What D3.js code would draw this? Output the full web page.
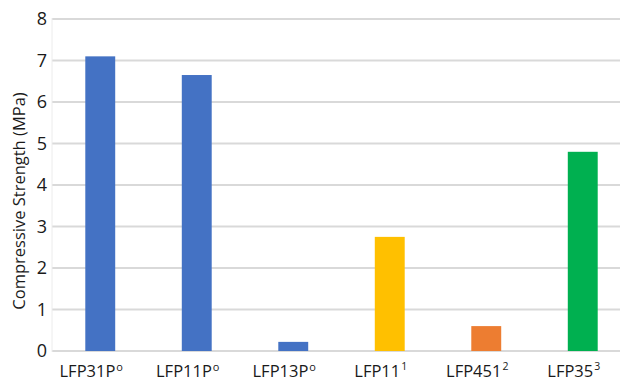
<!DOCTYPE html>
<html>
<head>
<meta charset="utf-8">
<script src="https://cdn.jsdelivr.net/npm/d3@7"></script>
<style>
  html, body { margin: 0; padding: 0; background: #fff; }
  svg { display: block; font-family: "Open Sans", "Noto Sans", sans-serif; }
</style>
</head>
<body>
<svg id="chart" width="620" height="381"></svg>
<script>
// Sample names, split into base text and superscript mark
const sampleNames = ["LFP31P", "LFP11P", "LFP13P", "LFP11", "LFP451", "LFP35"];
const sampleMarks = ["o", "o", "o", "1", "2", "3"];
// Compressive strength (MPa)
const strengthValues = [7.1, 6.65, 0.22, 2.75, 0.6, 4.8];
const barColors = ["#4472C4", "#4472C4", "#4472C4", "#FFC000", "#ED7D31", "#00B050"];
const yTicks = [0, 1, 2, 3, 4, 5, 6, 7, 8];
const yTitle = "Compressive Strength (MPa)";

const svg = d3.select("#chart");
const margin = { left: 52, right: -11, top: 19, bottom: 30 };
const W = 620, H = 381;

const x = d3.scaleBand()
  .domain(sampleNames)
  .range([margin.left, W - margin.right])
  .paddingInner(0.69)
  .paddingOuter(0.345);

const y = d3.scaleLinear()
  .domain([0, 8])
  .range([H - margin.bottom, margin.top]);

// Horizontal gridlines
svg.append("g")
  .selectAll("line")
  .data(yTicks)
  .join("line")
  .attr("x1", margin.left)
  .attr("x2", W)
  .attr("y1", d => y(d))
  .attr("y2", d => y(d))
  .attr("stroke", "#d9d9d9")
  .attr("stroke-width", 2);

// Left border of plot area
svg.append("line")
  .attr("x1", margin.left).attr("x2", margin.left)
  .attr("y1", y(8) - 1).attr("y2", y(0) + 1)
  .attr("stroke", "#ececec").attr("stroke-width", 1);

// Y tick labels
const yAxis = d3.axisLeft(y).tickValues(yTicks).tickSize(0).tickPadding(5).tickFormat(d3.format("d"));
const gy = svg.append("g")
  .attr("transform", `translate(${margin.left},0)`)
  .call(yAxis);
gy.select(".domain").remove();
gy.selectAll("text")
  .attr("font-size", 18)
  .attr("fill", "#1a1a1a")
  .style("font-family", "\"Open Sans\", sans-serif");

// Bars
svg.append("g")
  .selectAll("rect")
  .data(sampleNames)
  .join("rect")
  .attr("x", d => x(d))
  .attr("width", x.bandwidth())
  .attr("y", (d, i) => y(strengthValues[i]))
  .attr("height", (d, i) => y(0) - y(strengthValues[i]))
  .attr("fill", (d, i) => barColors[i]);

// X labels with superscript marks
const xl = svg.append("g")
  .selectAll("text")
  .data(sampleNames)
  .join("text")
  .attr("x", d => x(d) + x.bandwidth() / 2 - 9)
  .attr("y", 376.5)
  .attr("text-anchor", "middle")
  .attr("font-size", 16.5)
  .attr("fill", "#1a1a1a");
xl.append("tspan").text(d => d);
xl.append("tspan")
  .attr("dy", (d, i) => sampleMarks[i] === "o" ? -6 : -7)
  .attr("dx", 1)
  .attr("font-size", (d, i) => sampleMarks[i] === "o" ? 11 : 10.5)
  .text((d, i) => sampleMarks[i]);

// Y axis title
svg.append("text")
  .attr("transform", "translate(25,201) rotate(-90)")
  .attr("text-anchor", "middle")
  .attr("font-size", 16.5)
  .attr("fill", "#1a1a1a")
  .text(yTitle);
</script>
</body>
</html>
